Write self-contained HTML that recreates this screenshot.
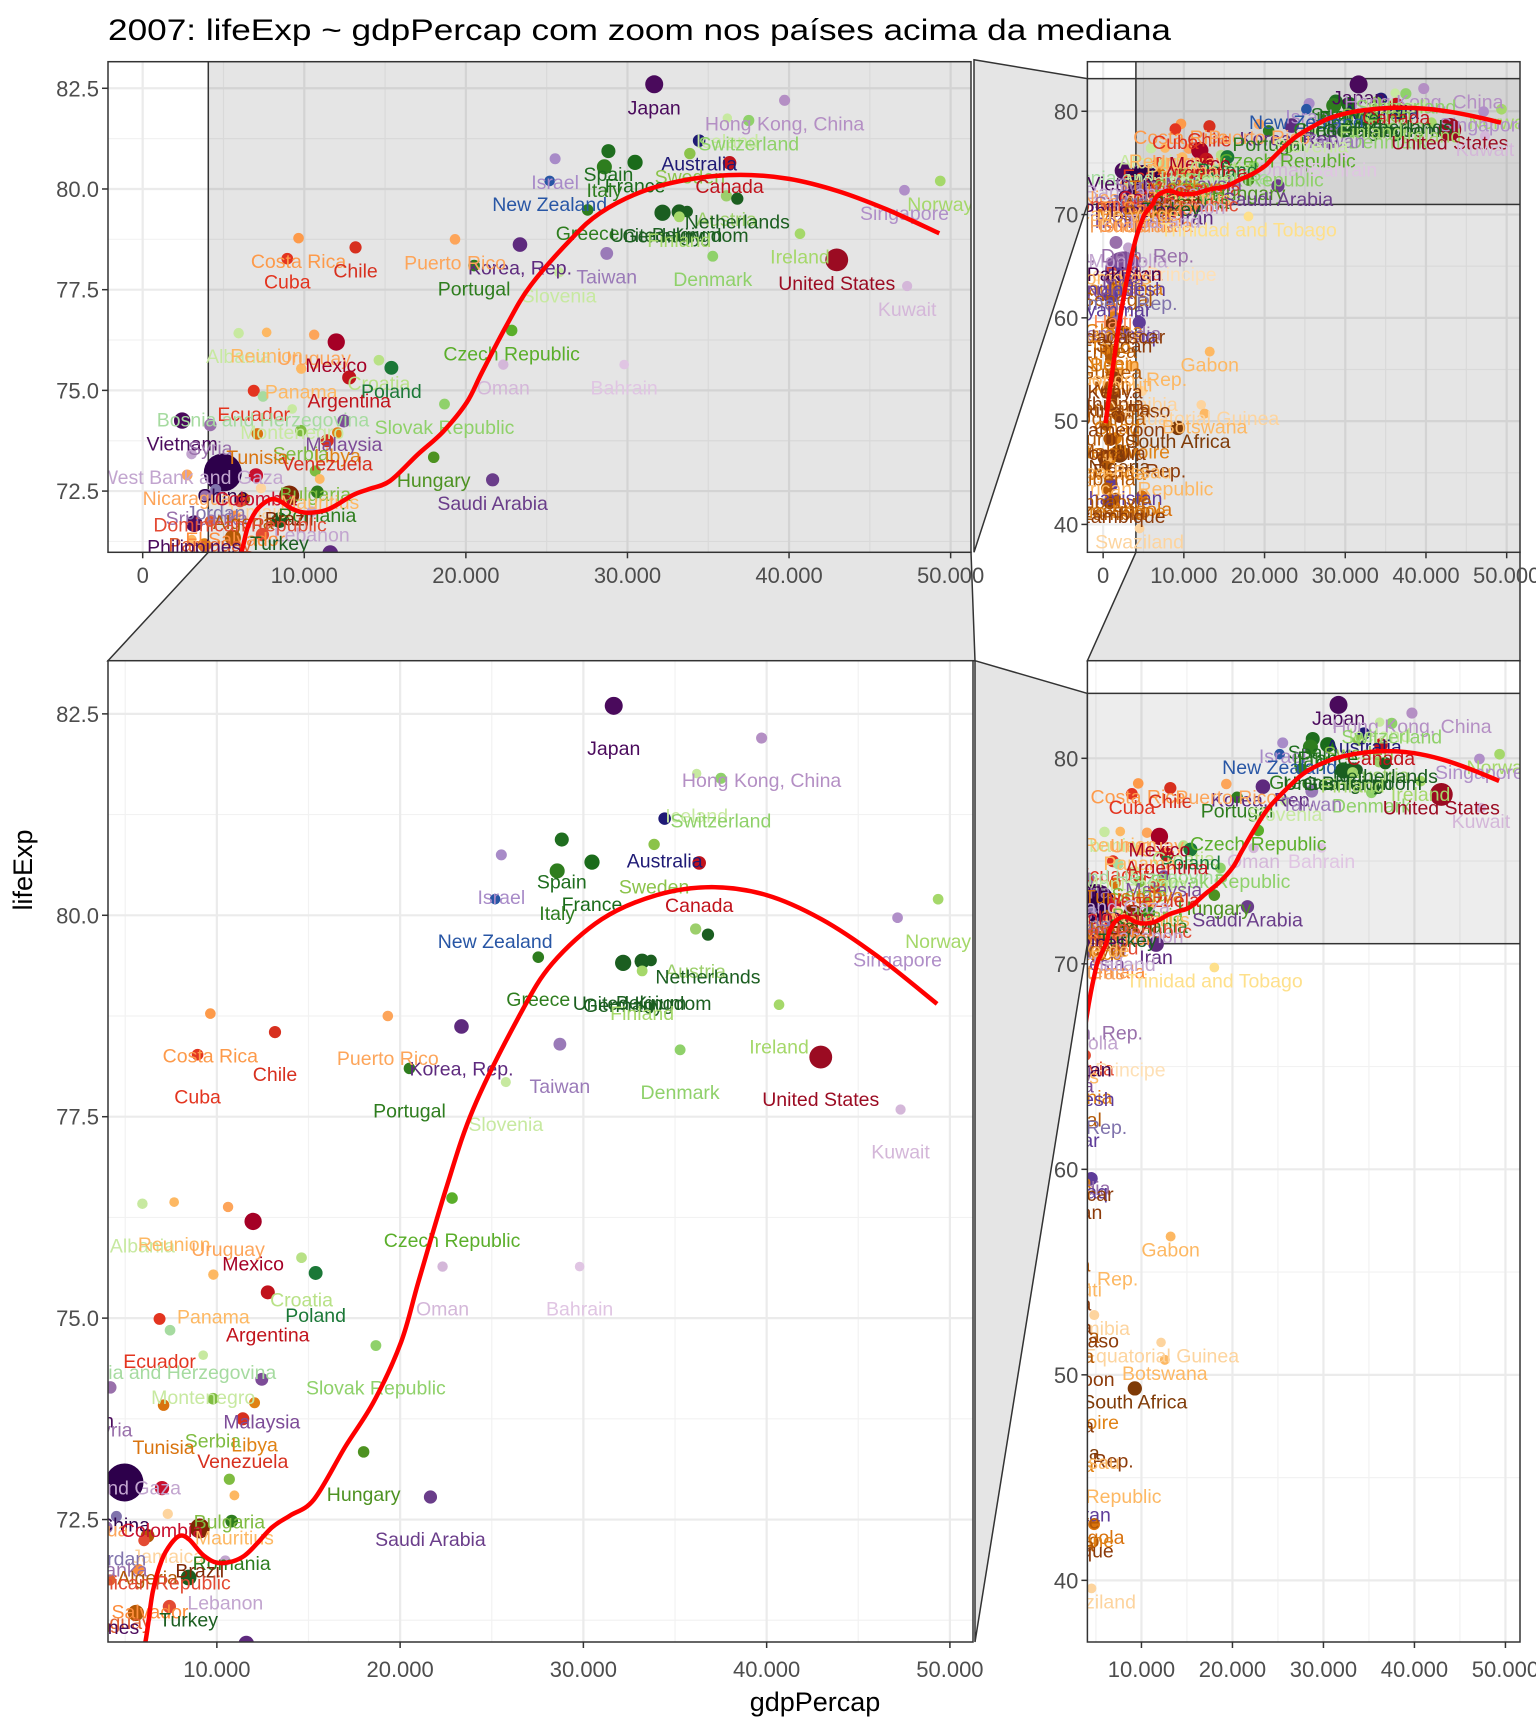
<!DOCTYPE html>
<html><head><meta charset="utf-8">
<style>
html,body{margin:0;padding:0;background:#fff;overflow:hidden;width:1536px;height:1728px;}
svg{display:block;font-family:"Liberation Sans",Arial,sans-serif;}
</style></head>
<body>
<svg id="chart" width="1536" height="1728" xmlns="http://www.w3.org/2000/svg">
<text x="108" y="40" font-size="30" fill="#000" textLength="1063" lengthAdjust="spacingAndGlyphs">2007: lifeExp ~ gdpPercap com zoom nos países acima da mediana</text>
<text x="815" y="1711" font-size="27" fill="#000" text-anchor="middle">gdpPercap</text>
<text transform="translate(32,870) rotate(-90)" font-size="27" fill="#000" text-anchor="middle">lifeExp</text>
<g id="connectors"></g>
<g id="panels"></g>
</svg>
<script>
// ---- data (gapminder 2007) ----
const countries = ["Japan","Hong Kong, China","Iceland","Switzerland","Australia","Spain","Sweden","Israel","France","Canada","Italy","New Zealand","Norway","Singapore","Austria","Netherlands","Greece","Belgium","United Kingdom","Germany","Finland","Ireland","Denmark","Costa Rica","Chile","Korea, Rep.","Puerto Rico","Cuba","Taiwan","United States","Portugal","Slovenia","Kuwait","Czech Republic","Albania","Reunion","Uruguay","Mexico","Croatia","Oman","Bahrain","Poland","Panama","Argentina","Ecuador","Bosnia and Herzegovina","Slovak Republic","Montenegro","Malaysia","Vietnam","Syria","Serbia","Libya","Tunisia","Venezuela","West Bank and Gaza","Hungary","Bulgaria","China","Nicaragua","Colombia","Saudi Arabia","Mauritius","Jamaica","Romania","Jordan","Sri Lanka","Brazil","Algeria","Dominican Republic","Lebanon","El Salvador","Paraguay","Turkey","Philippines","Peru","Egypt","Morocco","Iran","Indonesia","Guatemala","Honduras","Thailand","Trinidad and Tobago","Cape Verde","Mongolia","Korea, Dem. Rep.","Bolivia","Sao Tome and Principe","Pakistan","Comoros","India","Mauritania","Bangladesh","Nepal","Senegal","Yemen, Rep.","Myanmar","Haiti","Ghana","Cambodia","Iraq","Gambia","Madagascar","Sudan","Togo","Eritrea","Gabon","Niger","Benin","Guinea","Congo, Rep.","Djibouti","Mali","Kenya","Namibia","Ethiopia","Tanzania","Burkina Faso","Equatorial Guinea","Uganda","Chad","Botswana","Cameroon","Burundi","South Africa","Cote d'Ivoire","Malawi","Somalia","Nigeria","Congo, Dem. Rep.","Rwanda","Guinea-Bissau","Liberia","Central African Republic","Afghanistan","Zimbabwe","Angola","Lesotho","Sierra Leone","Zambia","Mozambique","Swaziland"];
const gdpPercap = [31656,39725,36181,37506,34435,28821,33860,25523,30470,36319,28570,25185,49357,47143,36126,36798,27538,33693,33203,32170,33207,40676,35278,9645,13172,23348,19329,8948,28718,42952,20510,25768,47307,22833,5937,7670,10611,11978,14619,22316,29796,15390,9809,12779,6873,7446,18678,9254,12452,2442,4185,9787,12057,7093,11416,3025,18009,10681,4959,2749,7007,21655,10957,7321,10808,4519,3970,9066,6223,6025,10461,5728,4173,8458,3190,7409,5581,3820,11606,3541,5186,3548,7458,18009,3041,3096,1593,3822,1598,2606,986,2452,1803,1391,1091,1712,2281,944,1202,1328,1714,4471,753,1045,2602,883,641,13206,620,1441,943,3633,2082,1043,1463,4811,691,1107,1217,12154,1056,1704,12570,2042,430,9270,1545,759,926,2014,278,863,579,415,706,975,470,4797,1569,863,1271,824,4513];
const lifeExp = [82.6,82.2,81.76,81.7,81.2,80.94,80.88,80.75,80.66,80.65,80.55,80.2,80.2,79.97,79.83,79.76,79.48,79.44,79.43,79.41,79.31,78.89,78.33,78.78,78.55,78.62,78.75,78.27,78.4,78.24,78.1,77.93,77.59,76.49,76.42,76.44,76.38,76.2,75.75,75.64,75.64,75.56,75.54,75.32,74.99,74.85,74.66,74.54,74.24,74.25,74.14,74.0,73.95,73.92,73.75,73.42,73.34,73.0,72.96,72.9,72.89,72.78,72.8,72.57,72.48,72.54,72.4,72.39,72.3,72.24,71.99,71.88,71.75,71.78,71.69,71.42,71.34,71.16,70.96,70.65,70.26,70.2,70.62,69.82,71.3,66.8,67.3,65.55,65.5,65.48,65.15,64.7,64.16,64.06,63.78,63.06,62.7,62.07,60.92,60.02,59.72,59.55,59.45,59.44,58.56,58.42,58.04,56.73,56.87,56.73,56.0,55.32,54.79,54.47,54.11,52.91,52.95,52.52,52.3,51.58,51.54,50.65,50.73,50.43,49.58,49.34,48.33,48.3,48.16,46.86,46.46,46.24,46.39,45.68,44.74,43.83,43.49,42.73,42.59,42.57,42.38,42.08,39.61];
const popMillions = [127,7,0.3,7.5,20,40,9,6.4,61,33,58,4,4.6,4.5,8.2,16.6,10.7,10.4,60,82,5.2,4.1,5.5,4.1,16,49,4,11.4,23,301,10.6,2,2.5,10.2,3.6,0.8,3.4,108,4.5,3.2,0.7,38,3.2,40,13.8,4.5,5.4,0.7,24,85,19,10,6,10,26,4,10,7.3,1318,5.7,44,27.6,1.25,2.8,22,6,20,190,33,9.3,4,6.9,6.7,71,91,28.7,80,33,69,224,12.6,7.5,65,1,0.4,2.9,23,9,0.2,169,0.7,1110,3.3,150,28.9,12,22,47,8.5,22.8,14,27.5,1.7,19,42,5.7,4.9,1.45,12.9,8,9.9,3.8,0.5,12,35.6,2,76.5,38,14.3,0.55,29,10,1.6,17.7,8.4,44,18,13,9.1,135,64.6,8.9,1.5,3.2,4.4,32,12.3,12.4,2,6.1,11.7,20,1.1];
const countryColor = ["#4a0a5c","#b48fc4","#c7e9a0","#8fd16a","#1f1a75","#1f6e1f","#8bc34a","#a88bc8","#1a6b1a","#c1131c","#2e7d1e","#2856a5","#a5d86a","#b08fc8","#9ccf6b","#1b5e20","#2e7d1e","#1b5e20","#1b5e20","#1b5e20","#a5d86a","#a5d86a","#8fd16a","#fd9a4a","#d7301f","#5e2a7e","#fda55a","#e3341f","#9a7ab8","#9b0b22","#2e7d1e","#c7e9a0","#d4b7d9","#5aae2a","#c7e9a0","#fdb863","#fda55a","#a50026","#b8e186","#d4b7d9","#e0c5e3","#1b7837","#fdb863","#c1131c","#e3341f","#a6dba0","#8fd16a","#c7e9a0","#7d4c98","#4a0a5c","#9970ab","#7fbc41","#e08214","#d9730e","#d7301f","#c2a5cf","#4d9221","#7fbc41","#2d004b","#fda55a","#c8102e","#6a3d8a","#fdb863","#fdd49e","#2e7d1e","#8073ac","#9970ab","#7f2704","#b35806","#e34a33","#c2a5cf","#fd8d3c","#e06030","#1b5e20","#4a0a5c","#e34a33","#b35806","#e08214","#5e2a7e","#7d4c98","#fd8d3c","#f4a460","#c2a5cf","#fee08b","#fdb863","#c2a5cf","#9970ab","#e34a33","#fee0b6","#40004b","#fdb863","#7d4c98","#e08214","#5e3c99","#7d4c98","#b35806","#8073ac","#5e3c99","#fc8d59","#e08214","#9970ab","#5e3c99","#fdb863","#8c3b0a","#8c3b0a","#e08214","#b35806","#fdb863","#d9730e","#e08214","#b35806","#fdb863","#fdb863","#b35806","#8c3b0a","#fdd49e","#8c3b0a","#b35806","#8c3b0a","#fdd49e","#b35806","#e08214","#fdb863","#8c3b0a","#b35806","#7f3b08","#e08214","#b35806","#8c3b0a","#7f3b08","#8c3b0a","#e08214","#fdb863","#b35806","#fdb863","#5e3c99","#b35806","#d9730e","#b35806","#e08214","#b35806","#8c3b0a","#fdd49e"];
// loess smooth
const smoothGdp = [300,1000,2000,3000,4000,5000,5500,6100,6500,7000,7500,8000,8500,9300,10200,11500,13000,14000,15300,17000,18580,20050,21000,22500,24000,26500,28300,31000,34000,37000,40000,43000,46000,49300];
const smoothLife = [49.8,54.0,59.5,64.0,67.5,69.8,70.4,70.98,71.6,72.0,72.2,72.3,72.25,72.05,71.96,72.05,72.4,72.55,72.75,73.4,73.97,74.7,75.45,76.6,77.6,78.75,79.4,79.95,80.25,80.35,80.25,79.95,79.5,78.9];
const xTicksFull = [0,10000,20000,30000,40000,50000];
const xTicksZoom = [10000,20000,30000,40000,50000];
const yTicksZoom = [72.5,75,77.5,80,82.5];
const yTicksFull = [40,50,60,70,80];
const zoomX = [4060,51700];
const zoomY = [70.98,83.16];

const NS="http://www.w3.org/2000/svg";
function mk(tag,attrs,parent){const e=document.createElementNS(NS,tag);for(const k in attrs)e.setAttribute(k,attrs[k]);if(parent)parent.appendChild(e);return e;}
function fmtX(v){return v===0?"0":(v/1000).toFixed(0)+".000";}
function fmtYz(v){return v.toFixed(1);}
function fmtYf(v){return String(v);}

const panels=[
 {name:"top-left-panel",x0:108,x1:971,y0:61.7,y1:552.3,xd:[-2147,51260],yd:[70.98,83.16],xt:xTicksFull,yt:yTicksZoom,fy:fmtYz,bandX:true,bandY:false,dy:23,xlab:575},
 {name:"top-right-panel",x0:1087.4,x1:1520,y0:61.7,y1:552.3,xd:[-1950,51650],yd:[37.3,84.8],xt:xTicksFull,yt:yTicksFull,fy:fmtYf,bandX:true,bandY:true,dy:13,xlab:575},
 {name:"zoom-panel",x0:108,x1:973,y0:660.7,y1:1642,xd:[4060,51260],yd:[70.98,83.16],xt:xTicksZoom,yt:yTicksZoom,fy:fmtYz,bandX:false,bandY:false,dy:42,xlab:1669},
 {name:"bottom-right-panel",x0:1087.4,x1:1520,y0:660.7,y1:1642,xd:[4060,51600],yd:[37.0,84.75],xt:xTicksZoom,yt:yTicksFull,fy:fmtYf,bandX:false,bandY:true,dy:13,xlab:1669}
];
panels.forEach(p=>{p.sx=v=>p.x0+(v-p.xd[0])/(p.xd[1]-p.xd[0])*(p.x1-p.x0);p.sy=v=>p.y1-(v-p.yd[0])/(p.yd[1]-p.yd[0])*(p.y1-p.y0);});

// connectors
const con=document.getElementById('connectors');
const [TL,TR,BL,BR]=panels;
const cp=[
 ["connector-top-left-to-zoom",[[TL.sx(zoomX[0]),TL.y1],[TL.x1,TL.y1],[BL.x1+2,BL.y0],[BL.x0,BL.y0]]],
 ["connector-top-left-to-top-right",[[TL.x1+3,TL.y0-2],[TR.x0,TR.sy(zoomY[1])],[TR.x0,TR.sy(zoomY[0])],[TL.x1+3,TL.y1]]],
 ["connector-top-right-to-bottom-right",[[TR.sx(zoomX[0]),TR.y1],[TR.x1,TR.y1],[BR.x1,BR.y0],[BR.x0,BR.y0]]],
 ["connector-zoom-to-bottom-right",[[BL.x1+2,BL.y0],[BR.x0,BR.sy(zoomY[1])],[BR.x0,BR.sy(zoomY[0])],[BL.x1+2,BL.y1]]]
];
cp.forEach(c=>{
 const e=mk('polygon',{points:c[1].map(q=>q.join(',')).join(' '),fill:'#e5e5e5',stroke:'#333','stroke-width':1.5},con);
 
 
});

function smoothPath(pts){
 let d='M'+pts[0][0].toFixed(1)+','+pts[0][1].toFixed(1);
 for(let i=0;i<pts.length-1;i++){
  const p0=pts[Math.max(0,i-1)],p1=pts[i],p2=pts[i+1],p3=pts[Math.min(pts.length-1,i+2)];
  const c1=[p1[0]+(p2[0]-p0[0])/6,p1[1]+(p2[1]-p0[1])/6];
  const c2=[p2[0]-(p3[0]-p1[0])/6,p2[1]-(p3[1]-p1[1])/6];
  d+=' C'+c1[0].toFixed(1)+','+c1[1].toFixed(1)+' '+c2[0].toFixed(1)+','+c2[1].toFixed(1)+' '+p2[0].toFixed(1)+','+p2[1].toFixed(1);
 }
 return d;
}

const host=document.getElementById('panels');
panels.forEach((p,pi)=>{
 const g=mk('g',{},host);
 
 
 const cid='clip'+pi;
 const cl=mk('clipPath',{id:cid},g);mk('rect',{x:p.x0,y:p.y0,width:p.x1-p.x0,height:p.y1-p.y0},cl);
 mk('rect',{x:p.x0,y:p.y0,width:p.x1-p.x0,height:p.y1-p.y0,fill:'#fff'},g);
 const inner=mk('g',{'clip-path':'url(#'+cid+')'},g);
 for(let i=0;i<p.xt.length+1;i++){const v=(p.xt[0]-5000)+i*10000;const x=p.sx(v);mk('line',{x1:x,x2:x,y1:p.y0,y2:p.y1,stroke:'#f2f2f2','stroke-width':1.2},inner);}
 const ys=p.yt[1]-p.yt[0];
 for(let i=-1;i<p.yt.length+1;i++){const v=p.yt[0]+ys/2+i*ys;const y=p.sy(v);mk('line',{x1:p.x0,x2:p.x1,y1:y,y2:y,stroke:'#f2f2f2','stroke-width':1.2},inner);}
 p.xt.forEach(v=>{const x=p.sx(v);mk('line',{x1:x,x2:x,y1:p.y0,y2:p.y1,stroke:'#ebebeb','stroke-width':2.2},inner);});
 p.yt.forEach(v=>{const y=p.sy(v);mk('line',{x1:p.x0,x2:p.x1,y1:y,y2:y,stroke:'#ebebeb','stroke-width':2.2},inner);});
 if(p.bandX){const b=mk('rect',{x:p.sx(zoomX[0]),y:p.y0-2,width:p.x1-p.sx(zoomX[0])+5,height:p.y1-p.y0+4,fill:'#000','fill-opacity':0.1,stroke:'#333','stroke-width':1.5},inner);}
 if(p.bandY){const b=mk('rect',{x:p.x0-2,y:p.sy(zoomY[1]),width:p.x1-p.x0+4,height:p.sy(zoomY[0])-p.sy(zoomY[1]),fill:'#000','fill-opacity':0.07,stroke:'#333','stroke-width':1.5},inner);}
 countries.forEach((n,i)=>{
  const r=4.5+14.5*Math.sqrt(popMillions[i]/1318);
  const c=mk('circle',{cx:p.sx(gdpPercap[i]),cy:p.sy(lifeExp[i]),r:r,fill:countryColor[i]},inner);
  
  
 });
 countries.forEach((n,i)=>{
  const t=mk('text',{x:p.sx(gdpPercap[i]),y:p.sy(lifeExp[i])+p.dy+7,'font-size':19.5,fill:countryColor[i],'text-anchor':'middle'},inner);
  t.textContent=n;
  
  
 });
 const pts=smoothGdp.map((v,i)=>[p.sx(v),p.sy(smoothLife[i])]);
 const sm=mk('path',{d:smoothPath(pts),fill:'none',stroke:'#ff0000','stroke-width':4.5,'stroke-linejoin':'round'},inner);
 
 
 mk('rect',{x:p.x0,y:p.y0,width:p.x1-p.x0,height:p.y1-p.y0,fill:'none',stroke:'#333','stroke-width':1.5},g);
 const ax=mk('g',{},g);
 
 
 p.xt.forEach(v=>{const x=p.sx(v);mk('line',{x1:x,x2:x,y1:p.y1,y2:p.y1+6,stroke:'#333','stroke-width':1.5},ax);
  const t=mk('text',{x:x,y:p.xlab+8,'font-size':22,fill:'#4d4d4d','text-anchor':'middle'},ax);t.textContent=fmtX(v);
  
  });
 const ay=mk('g',{},g);
 
 
 p.yt.forEach(v=>{const y=p.sy(v);mk('line',{x1:p.x0-6,x2:p.x0,y1:y,y2:y,stroke:'#333','stroke-width':1.5},ay);
  const t=mk('text',{x:p.x0-9,y:y+8,'font-size':22,fill:'#4d4d4d','text-anchor':'end'},ay);t.textContent=p.fy(v);
  
  });
});
</script>
</body></html>
